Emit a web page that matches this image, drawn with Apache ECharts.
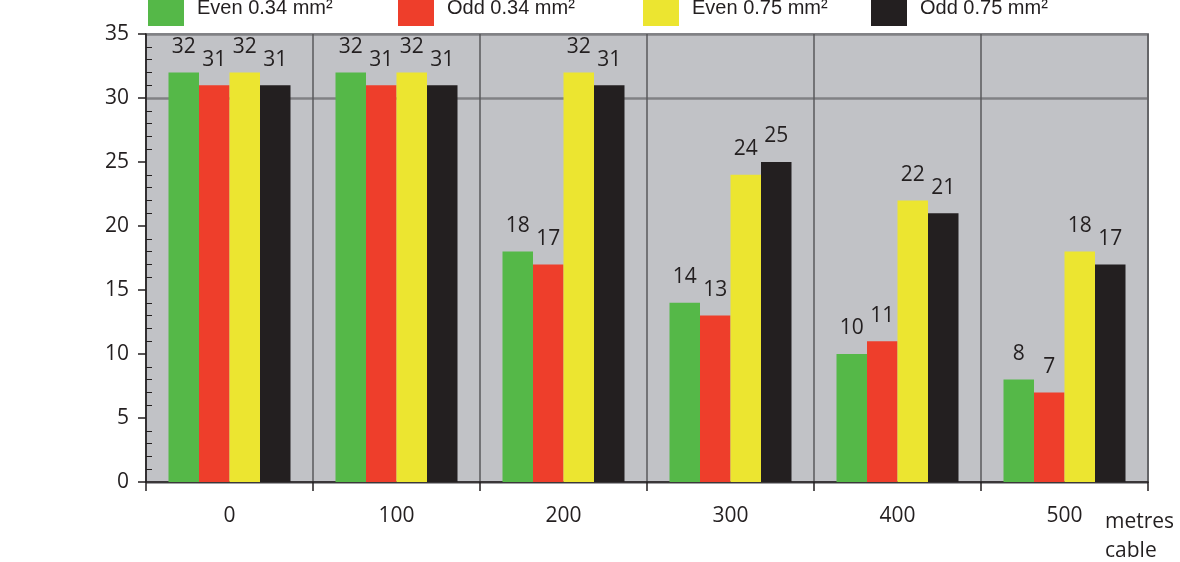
<!DOCTYPE html>
<html><head><meta charset="utf-8">
<script src="https://cdn.jsdelivr.net/npm/echarts@6/dist/echarts.min.js"></script>
<style>html,body{margin:0;padding:0;background:#fff}#c{width:1180px;height:562px}</style>
</head><body><div id="c"></div>
<script>
const categories = ['0', '100', '200', '300', '400', '500'];
const seriesNames = ['Even 0.34 mm²', 'Odd 0.34 mm²', 'Even 0.75 mm²', 'Odd 0.75 mm²'];
const even034 = [32, 32, 18, 14, 10, 8];
const odd034 = [31, 31, 17, 13, 11, 7];
const even075 = [32, 32, 32, 24, 22, 18];
const odd075 = [31, 31, 31, 25, 21, 17];
const colors = ['#55b848', '#ee3e2b', '#ece530', '#231f20'];
const legendLeft = [148, 398, 643, 871];

const values = [even034, odd034, even075, odd075];
const chart = echarts.init(document.getElementById('c'));
const labelFont = 'Open Sans, Noto Sans, sans-serif';
chart.setOption({
  animation: false,
  legend: seriesNames.map((n, i) => ({
    data: [n], left: legendLeft[i], top: -10, padding: 0,
    itemWidth: 36, itemHeight: 36, icon: 'rect',
    textStyle: { fontFamily: 'Liberation Sans, Arial, sans-serif', fontSize: 20, color: '#231f20', padding: [0, 0, 0, 8] }
  })),
  grid: { left: 146, right: 32, top: 34, bottom: 80, show: true, backgroundColor: '#c1c2c6', borderColor: '#8c8d90', borderWidth: 2 },
  xAxis: {
    type: 'category', data: categories,
    axisLine: { lineStyle: { color: '#231f20', width: 1.5 } },
    axisTick: { show: true, length: 9, lineStyle: { color: '#231f20', width: 1.5 } },
    axisLabel: { margin: 24, fontSize: 21, color: '#231f20', fontFamily: labelFont },
    splitLine: { show: true, lineStyle: { color: '#58595b', width: 1.5 } }
  },
  yAxis: [{
    type: 'value', min: 0, max: 35, interval: 5,
    axisLine: { show: true, lineStyle: { color: '#231f20', width: 1.5 } },
    axisTick: { show: true, length: 8, lineStyle: { color: '#231f20', width: 1.5 } },
    minorTick: { show: true, splitNumber: 5, length: -6, lineStyle: { color: '#231f20', width: 1 } },
    axisLabel: { margin: 17, fontSize: 21, color: '#231f20', fontFamily: labelFont },
    splitLine: { show: false }
  }, {
    type: 'value', min: 0, max: 35, interval: 30, position: 'left',
    axisLine: { show: false }, axisTick: { show: false }, axisLabel: { show: false },
    splitLine: { show: true, lineStyle: { color: '#808184', width: 2.5 } }
  }],
  series: values.map((v, i) => ({
    name: seriesNames[i], type: 'bar', data: v, barWidth: 30.5, barGap: '0%',
    itemStyle: { color: colors[i] },
    label: { show: true, position: 'top', distance: 15, fontSize: 21, color: '#231f20', fontFamily: labelFont }
  })),
  graphic: [{
    type: 'text', left: 1105, top: 508,
    style: { text: 'metres\ncable', fontSize: 21, lineHeight: 29, fill: '#231f20', fontFamily: labelFont }
  }]
});
</script></body></html>
